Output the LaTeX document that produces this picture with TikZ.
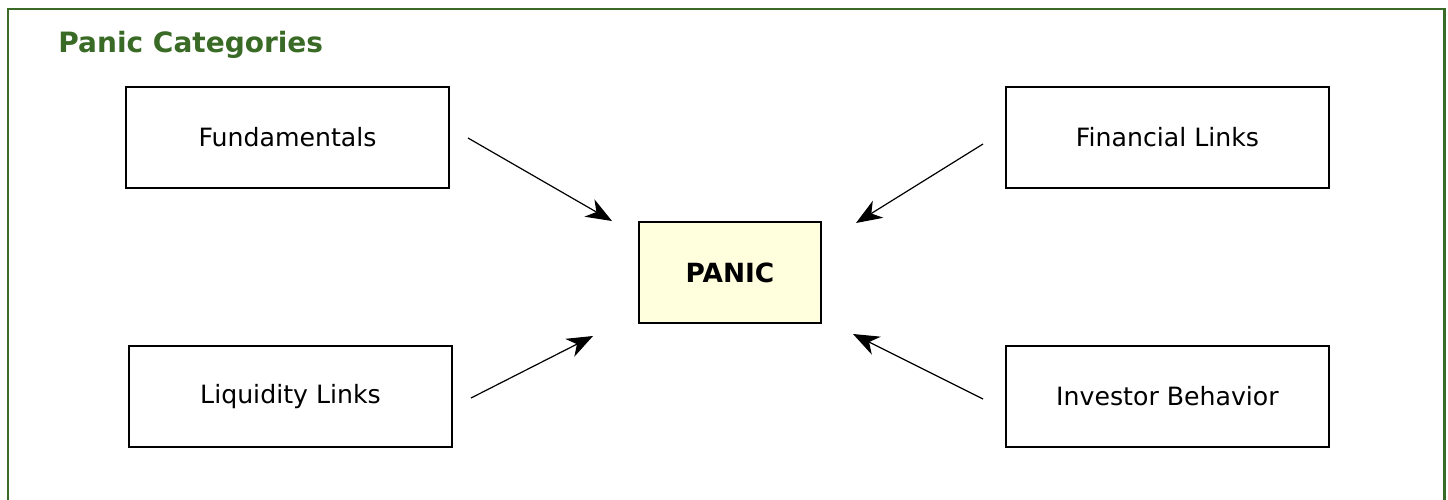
\documentclass[tikz,border=0pt]{standalone}
\usepackage{fontspec}
\setmainfont{DejaVu Sans}
\usetikzlibrary{arrows.meta}
\definecolor{frame}{HTML}{3A6B26}
\definecolor{panicfill}{HTML}{FFFFDD}
\begin{document}
\begin{tikzpicture}[x=0.5pt,y=-0.5pt,
  catbox/.style={draw=black, line width=0.65pt, minimum width=161.5pt, minimum height=50.5pt, inner sep=0pt, font=\fontsize{12.6pt}{14pt}\selectfont},
  panicbox/.style={draw=black, line width=0.65pt, fill=panicfill, minimum width=91pt, minimum height=50.5pt, inner sep=0pt, font=\fontsize{13.2pt}{15pt}\selectfont\bfseries},
  link/.style={line width=0.6pt, -{Stealth[length=13pt,width=10pt,inset=4pt]}}]
\useasboundingbox (0,0) rectangle (1448,499);
\fill[white] (0,0) rectangle (1448,499);
\draw[frame, line width=1.4pt] (8,520) -- (8,9) -- (1444.5,9) -- (1444.5,520);
\node[anchor=west, inner sep=0pt, text=frame, font=\fontsize{14pt}{16pt}\selectfont\bfseries] (title) at (58,45) {Panic Categories};
\node[catbox] (fund) at (287.5,137.5) {Fundamentals};
\node[catbox] (fin) at (1167.5,137.5) {Financial Links};
\node[catbox] (liq) at (290.5,396.5) {Liquidity Links};
\node[catbox] (inv) at (1167.5,396.5) {Investor Behavior};
\node[panicbox] (panic) at (730,272.5) {PANIC};
\coordinate (f1) at (468,138); \coordinate (f2) at (612,221);
\coordinate (n1) at (983,144); \coordinate (n2) at (856,223);
\coordinate (l1) at (471,398); \coordinate (l2) at (593,336);
\coordinate (i1) at (983,399); \coordinate (i2) at (853,334);
\draw[link] (f1) -- (f2);
\draw[link] (n1) -- (n2);
\draw[link] (l1) -- (l2);
\draw[link] (i1) -- (i2);
\end{tikzpicture}
\end{document}
